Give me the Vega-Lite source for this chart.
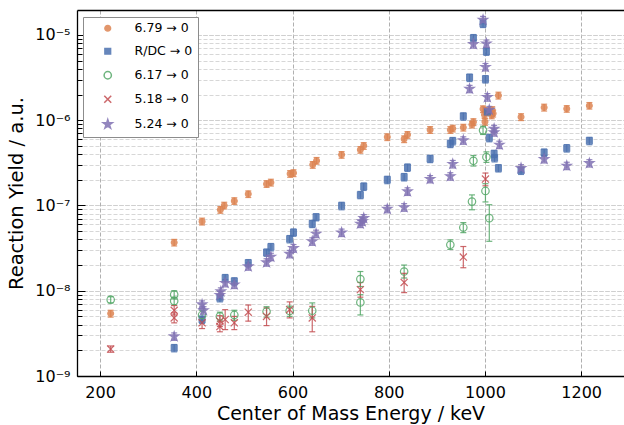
{
  "$schema": "https://vega.github.io/schema/vega-lite/v6.json",
  "width": 547,
  "height": 366,
  "autosize": "none",
  "padding": {"left": 77, "top": 10, "right": 0, "bottom": 49},
  "background": "white",
  "config": {
    "view": {"stroke": null},
    "font": "DejaVu Sans",
    "axis": {"labelFont": "DejaVu Sans", "titleFont": "DejaVu Sans", "labelColor": "#000", "titleColor": "#000", "titleFontWeight": "normal", "domainColor": "#000", "domainWidth": 1.3, "tickColor": "#000", "tickWidth": 1},
    "legend": {"labelFont": "DejaVu Sans", "title": null, "orient": "none", "legendX": 6, "legendY": 7, "padding": 5, "rowPadding": 10,
               "strokeColor": "#8c8c8c", "fillColor": "white", "symbolSize": 40, "symbolOffset": 13.5, "labelOffset": 20.5,
               "labelFontSize": 12.5, "labelColor": "#000"}
  },
  "data": {"name": "d"},
  "datasets": {
    "d": [
      {"s": "6.79 → 0", "E": 222, "Y": 5.4e-9, "lo": 4.9e-9, "hi": 5.9e-9},
      {"s": "6.79 → 0", "E": 354, "Y": 3.68e-8, "lo": 3.35e-8, "hi": 4.0e-8},
      {"s": "6.79 → 0", "E": 412, "Y": 6.5e-8, "lo": 5.9e-8, "hi": 7.1e-8},
      {"s": "6.79 → 0", "E": 450, "Y": 8.9e-8, "lo": 8.1e-8, "hi": 9.7e-8},
      {"s": "6.79 → 0", "E": 458, "Y": 1.0e-7, "lo": 9.1e-8, "hi": 1.09e-7},
      {"s": "6.79 → 0", "E": 479, "Y": 1.13e-7, "lo": 1.03e-7, "hi": 1.23e-7},
      {"s": "6.79 → 0", "E": 508, "Y": 1.36e-7, "lo": 1.24e-7, "hi": 1.48e-7},
      {"s": "6.79 → 0", "E": 546, "Y": 1.79e-7, "lo": 1.63e-7, "hi": 1.95e-7},
      {"s": "6.79 → 0", "E": 555, "Y": 1.86e-7, "lo": 1.69e-7, "hi": 2.03e-7},
      {"s": "6.79 → 0", "E": 595, "Y": 2.35e-7, "lo": 2.14e-7, "hi": 2.56e-7},
      {"s": "6.79 → 0", "E": 602, "Y": 2.4e-7, "lo": 2.18e-7, "hi": 2.62e-7},
      {"s": "6.79 → 0", "E": 642, "Y": 3.0e-7, "lo": 2.73e-7, "hi": 3.27e-7},
      {"s": "6.79 → 0", "E": 650, "Y": 3.35e-7, "lo": 3.05e-7, "hi": 3.65e-7},
      {"s": "6.79 → 0", "E": 702, "Y": 3.93e-7, "lo": 3.58e-7, "hi": 4.28e-7},
      {"s": "6.79 → 0", "E": 741, "Y": 4.5e-7, "lo": 4.1e-7, "hi": 4.9e-7},
      {"s": "6.79 → 0", "E": 748, "Y": 5.0e-7, "lo": 4.55e-7, "hi": 5.45e-7},
      {"s": "6.79 → 0", "E": 797, "Y": 6.34e-7, "lo": 5.77e-7, "hi": 6.91e-7},
      {"s": "6.79 → 0", "E": 832, "Y": 6.0e-7, "lo": 5.46e-7, "hi": 6.54e-7},
      {"s": "6.79 → 0", "E": 839, "Y": 6.74e-7, "lo": 6.13e-7, "hi": 7.35e-7},
      {"s": "6.79 → 0", "E": 886, "Y": 7.7e-7, "lo": 7.0e-7, "hi": 8.4e-7},
      {"s": "6.79 → 0", "E": 928, "Y": 7.7e-7, "lo": 7.0e-7, "hi": 8.4e-7},
      {"s": "6.79 → 0", "E": 933, "Y": 8.0e-7, "lo": 7.28e-7, "hi": 8.72e-7},
      {"s": "6.79 → 0", "E": 955, "Y": 8.2e-7, "lo": 7.46e-7, "hi": 8.94e-7},
      {"s": "6.79 → 0", "E": 973, "Y": 8.9e-7, "lo": 8.1e-7, "hi": 9.7e-7},
      {"s": "6.79 → 0", "E": 976, "Y": 9.5e-7, "lo": 8.65e-7, "hi": 1.04e-6},
      {"s": "6.79 → 0", "E": 996, "Y": 1.35e-6, "lo": 1.23e-6, "hi": 1.47e-6},
      {"s": "6.79 → 0", "E": 999, "Y": 1.16e-6, "lo": 1.06e-6, "hi": 1.26e-6},
      {"s": "6.79 → 0", "E": 1002, "Y": 1.28e-6, "lo": 1.16e-6, "hi": 1.4e-6},
      {"s": "6.79 → 0", "E": 1000, "Y": 9.6e-7, "lo": 8.7e-7, "hi": 1.05e-6},
      {"s": "6.79 → 0", "E": 1015, "Y": 1.32e-6, "lo": 1.2e-6, "hi": 1.44e-6},
      {"s": "6.79 → 0", "E": 1017, "Y": 1.2e-6, "lo": 1.09e-6, "hi": 1.31e-6},
      {"s": "6.79 → 0", "E": 1014, "Y": 1.14e-6, "lo": 1.04e-6, "hi": 1.24e-6},
      {"s": "6.79 → 0", "E": 1028, "Y": 1.95e-6, "lo": 1.77e-6, "hi": 2.13e-6},
      {"s": "6.79 → 0", "E": 1075, "Y": 1.09e-6, "lo": 9.9e-7, "hi": 1.19e-6},
      {"s": "6.79 → 0", "E": 1123, "Y": 1.41e-6, "lo": 1.28e-6, "hi": 1.54e-6},
      {"s": "6.79 → 0", "E": 1170, "Y": 1.36e-6, "lo": 1.24e-6, "hi": 1.48e-6},
      {"s": "6.79 → 0", "E": 1217, "Y": 1.48e-6, "lo": 1.35e-6, "hi": 1.61e-6},

      {"s": "R/DC → 0", "E": 354, "Y": 2.13e-9, "lo": 1.92e-9, "hi": 2.34e-9},
      {"s": "R/DC → 0", "E": 412, "Y": 4.6e-9, "lo": 4.14e-9, "hi": 5.06e-9},
      {"s": "R/DC → 0", "E": 449, "Y": 8.2e-9, "lo": 7.4e-9, "hi": 9.0e-9},
      {"s": "R/DC → 0", "E": 460, "Y": 1.41e-8, "lo": 1.27e-8, "hi": 1.55e-8},
      {"s": "R/DC → 0", "E": 479, "Y": 1.29e-8, "lo": 1.16e-8, "hi": 1.42e-8},
      {"s": "R/DC → 0", "E": 508, "Y": 2.11e-8, "lo": 1.9e-8, "hi": 2.32e-8},
      {"s": "R/DC → 0", "E": 546, "Y": 2.81e-8, "lo": 2.53e-8, "hi": 3.09e-8},
      {"s": "R/DC → 0", "E": 555, "Y": 3.25e-8, "lo": 2.93e-8, "hi": 3.58e-8},
      {"s": "R/DC → 0", "E": 594, "Y": 4.04e-8, "lo": 3.64e-8, "hi": 4.44e-8},
      {"s": "R/DC → 0", "E": 602, "Y": 4.83e-8, "lo": 4.35e-8, "hi": 5.31e-8},
      {"s": "R/DC → 0", "E": 641, "Y": 6.1e-8, "lo": 5.5e-8, "hi": 6.7e-8},
      {"s": "R/DC → 0", "E": 649, "Y": 7.3e-8, "lo": 6.6e-8, "hi": 8.0e-8},
      {"s": "R/DC → 0", "E": 702, "Y": 9.9e-8, "lo": 8.9e-8, "hi": 1.09e-7},
      {"s": "R/DC → 0", "E": 741, "Y": 1.33e-7, "lo": 1.2e-7, "hi": 1.46e-7},
      {"s": "R/DC → 0", "E": 748, "Y": 1.67e-7, "lo": 1.5e-7, "hi": 1.84e-7},
      {"s": "R/DC → 0", "E": 797, "Y": 2.0e-7, "lo": 1.8e-7, "hi": 2.2e-7},
      {"s": "R/DC → 0", "E": 832, "Y": 2.15e-7, "lo": 1.94e-7, "hi": 2.37e-7},
      {"s": "R/DC → 0", "E": 839, "Y": 2.79e-7, "lo": 2.51e-7, "hi": 3.07e-7},
      {"s": "R/DC → 0", "E": 886, "Y": 3.53e-7, "lo": 3.18e-7, "hi": 3.88e-7},
      {"s": "R/DC → 0", "E": 928, "Y": 5.3e-7, "lo": 4.77e-7, "hi": 5.83e-7},
      {"s": "R/DC → 0", "E": 933, "Y": 5.7e-7, "lo": 5.13e-7, "hi": 6.27e-7},
      {"s": "R/DC → 0", "E": 955, "Y": 1.11e-6, "lo": 1.0e-6, "hi": 1.22e-6},
      {"s": "R/DC → 0", "E": 968, "Y": 3.16e-6, "lo": 2.84e-6, "hi": 3.48e-6},
      {"s": "R/DC → 0", "E": 976, "Y": 9.2e-6, "lo": 8.3e-6, "hi": 1.01e-5},
      {"s": "R/DC → 0", "E": 996, "Y": 1.35e-5, "lo": 1.22e-5, "hi": 1.49e-5},
      {"s": "R/DC → 0", "E": 1001, "Y": 3.03e-6, "lo": 2.73e-6, "hi": 3.33e-6},
      {"s": "R/DC → 0", "E": 1003, "Y": 6.4e-6, "lo": 5.76e-6, "hi": 7.04e-6},
      {"s": "R/DC → 0", "E": 1005, "Y": 1.25e-6, "lo": 1.13e-6, "hi": 1.38e-6},
      {"s": "R/DC → 0", "E": 1009, "Y": 6.2e-7, "lo": 5.58e-7, "hi": 6.82e-7},
      {"s": "R/DC → 0", "E": 1019, "Y": 4.04e-7, "lo": 3.64e-7, "hi": 4.44e-7},
      {"s": "R/DC → 0", "E": 1020, "Y": 3.6e-7, "lo": 3.24e-7, "hi": 3.96e-7},
      {"s": "R/DC → 0", "E": 1028, "Y": 2.74e-7, "lo": 2.47e-7, "hi": 3.01e-7},
      {"s": "R/DC → 0", "E": 1075, "Y": 2.57e-7, "lo": 2.31e-7, "hi": 2.83e-7},
      {"s": "R/DC → 0", "E": 1123, "Y": 4.18e-7, "lo": 3.76e-7, "hi": 4.6e-7},
      {"s": "R/DC → 0", "E": 1170, "Y": 4.7e-7, "lo": 4.23e-7, "hi": 5.17e-7},
      {"s": "R/DC → 0", "E": 1217, "Y": 5.73e-7, "lo": 5.16e-7, "hi": 6.3e-7},

      {"s": "6.17 → 0", "E": 222, "Y": 7.85e-9, "lo": 7.2e-9, "hi": 8.5e-9},
      {"s": "6.17 → 0", "E": 354, "Y": 9.0e-9, "lo": 8.0e-9, "hi": 1.0e-8},
      {"s": "6.17 → 0", "E": 354, "Y": 7.6e-9, "lo": 6.8e-9, "hi": 8.4e-9},
      {"s": "6.17 → 0", "E": 412, "Y": 5.2e-9, "lo": 4.5e-9, "hi": 5.9e-9},
      {"s": "6.17 → 0", "E": 449, "Y": 5.0e-9, "lo": 4.4e-9, "hi": 5.6e-9},
      {"s": "6.17 → 0", "E": 479, "Y": 5.2e-9, "lo": 4.5e-9, "hi": 5.9e-9},
      {"s": "6.17 → 0", "E": 546, "Y": 5.7e-9, "lo": 4.9e-9, "hi": 6.5e-9},
      {"s": "6.17 → 0", "E": 594, "Y": 5.8e-9, "lo": 5.0e-9, "hi": 6.6e-9},
      {"s": "6.17 → 0", "E": 641, "Y": 5.83e-9, "lo": 4.8e-9, "hi": 7.2e-9},
      {"s": "6.17 → 0", "E": 741, "Y": 1.37e-8, "lo": 1.12e-8, "hi": 1.68e-8},
      {"s": "6.17 → 0", "E": 741, "Y": 7.3e-9, "lo": 5.2e-9, "hi": 9.0e-9},
      {"s": "6.17 → 0", "E": 832, "Y": 1.68e-8, "lo": 1.41e-8, "hi": 2.0e-8},
      {"s": "6.17 → 0", "E": 928, "Y": 3.46e-8, "lo": 3.05e-8, "hi": 3.95e-8},
      {"s": "6.17 → 0", "E": 955, "Y": 5.52e-8, "lo": 4.8e-8, "hi": 6.3e-8},
      {"s": "6.17 → 0", "E": 973, "Y": 1.11e-7, "lo": 8.9e-8, "hi": 1.33e-7},
      {"s": "6.17 → 0", "E": 976, "Y": 3.34e-7, "lo": 2.9e-7, "hi": 3.85e-7},
      {"s": "6.17 → 0", "E": 996, "Y": 7.6e-7, "lo": 6.8e-7, "hi": 8.5e-7},
      {"s": "6.17 → 0", "E": 1001, "Y": 1.48e-7, "lo": 1.1e-7, "hi": 1.8e-7},
      {"s": "6.17 → 0", "E": 1003, "Y": 3.7e-7, "lo": 3.2e-7, "hi": 4.25e-7},
      {"s": "6.17 → 0", "E": 1009, "Y": 7.1e-8, "lo": 3.8e-8, "hi": 1.02e-7},

      {"s": "5.18 → 0", "E": 222, "Y": 2.07e-9, "lo": 1.9e-9, "hi": 2.25e-9},
      {"s": "5.18 → 0", "E": 354, "Y": 5.9e-9, "lo": 5.2e-9, "hi": 6.7e-9},
      {"s": "5.18 → 0", "E": 354, "Y": 4.8e-9, "lo": 4.2e-9, "hi": 5.5e-9},
      {"s": "5.18 → 0", "E": 412, "Y": 4.2e-9, "lo": 3.6e-9, "hi": 4.9e-9},
      {"s": "5.18 → 0", "E": 449, "Y": 4.4e-9, "lo": 3.8e-9, "hi": 5.1e-9},
      {"s": "5.18 → 0", "E": 449, "Y": 3.8e-9, "lo": 3.3e-9, "hi": 4.4e-9},
      {"s": "5.18 → 0", "E": 460, "Y": 4.6e-9, "lo": 3.5e-9, "hi": 6.0e-9},
      {"s": "5.18 → 0", "E": 479, "Y": 4.2e-9, "lo": 3.5e-9, "hi": 5.0e-9},
      {"s": "5.18 → 0", "E": 508, "Y": 5.6e-9, "lo": 4.4e-9, "hi": 6.8e-9},
      {"s": "5.18 → 0", "E": 546, "Y": 5.0e-9, "lo": 3.9e-9, "hi": 6.3e-9},
      {"s": "5.18 → 0", "E": 594, "Y": 6.0e-9, "lo": 4.8e-9, "hi": 7.4e-9},
      {"s": "5.18 → 0", "E": 641, "Y": 4.8e-9, "lo": 3.3e-9, "hi": 6.55e-9},
      {"s": "5.18 → 0", "E": 741, "Y": 1.03e-8, "lo": 8.4e-9, "hi": 1.25e-8},
      {"s": "5.18 → 0", "E": 832, "Y": 1.25e-8, "lo": 9.5e-9, "hi": 1.6e-8},
      {"s": "5.18 → 0", "E": 955, "Y": 2.48e-8, "lo": 1.86e-8, "hi": 3.3e-8},
      {"s": "5.18 → 0", "E": 1001, "Y": 2.04e-7, "lo": 1.7e-7, "hi": 2.4e-7},

      {"s": "5.24 → 0", "E": 354, "Y": 2.91e-9, "lo": 2.62e-9, "hi": 3.2e-9},
      {"s": "5.24 → 0", "E": 412, "Y": 6.9e-9, "lo": 6.2e-9, "hi": 7.6e-9},
      {"s": "5.24 → 0", "E": 415, "Y": 5.9e-9, "lo": 5.3e-9, "hi": 6.5e-9},
      {"s": "5.24 → 0", "E": 449, "Y": 8.9e-9, "lo": 8.0e-9, "hi": 9.8e-9},
      {"s": "5.24 → 0", "E": 451, "Y": 9.8e-9, "lo": 8.8e-9, "hi": 1.08e-8},
      {"s": "5.24 → 0", "E": 460, "Y": 1.23e-8, "lo": 1.11e-8, "hi": 1.35e-8},
      {"s": "5.24 → 0", "E": 479, "Y": 1.18e-8, "lo": 1.06e-8, "hi": 1.3e-8},
      {"s": "5.24 → 0", "E": 508, "Y": 1.93e-8, "lo": 1.74e-8, "hi": 2.12e-8},
      {"s": "5.24 → 0", "E": 546, "Y": 2.15e-8, "lo": 1.94e-8, "hi": 2.37e-8},
      {"s": "5.24 → 0", "E": 555, "Y": 2.5e-8, "lo": 2.25e-8, "hi": 2.75e-8},
      {"s": "5.24 → 0", "E": 594, "Y": 2.7e-8, "lo": 2.43e-8, "hi": 2.97e-8},
      {"s": "5.24 → 0", "E": 602, "Y": 3.16e-8, "lo": 2.84e-8, "hi": 3.48e-8},
      {"s": "5.24 → 0", "E": 641, "Y": 3.79e-8, "lo": 3.41e-8, "hi": 4.17e-8},
      {"s": "5.24 → 0", "E": 649, "Y": 4.66e-8, "lo": 4.19e-8, "hi": 5.13e-8},
      {"s": "5.24 → 0", "E": 702, "Y": 4.8e-8, "lo": 4.32e-8, "hi": 5.28e-8},
      {"s": "5.24 → 0", "E": 741, "Y": 6.1e-8, "lo": 5.5e-8, "hi": 6.7e-8},
      {"s": "5.24 → 0", "E": 745, "Y": 6.5e-8, "lo": 5.85e-8, "hi": 7.15e-8},
      {"s": "5.24 → 0", "E": 748, "Y": 7.1e-8, "lo": 6.4e-8, "hi": 7.8e-8},
      {"s": "5.24 → 0", "E": 797, "Y": 9.1e-8, "lo": 8.2e-8, "hi": 1.0e-7},
      {"s": "5.24 → 0", "E": 832, "Y": 9.5e-8, "lo": 8.55e-8, "hi": 1.05e-7},
      {"s": "5.24 → 0", "E": 839, "Y": 1.46e-7, "lo": 1.31e-7, "hi": 1.61e-7},
      {"s": "5.24 → 0", "E": 886, "Y": 2.04e-7, "lo": 1.84e-7, "hi": 2.24e-7},
      {"s": "5.24 → 0", "E": 928, "Y": 2.2e-7, "lo": 1.98e-7, "hi": 2.42e-7},
      {"s": "5.24 → 0", "E": 933, "Y": 3.06e-7, "lo": 2.75e-7, "hi": 3.37e-7},
      {"s": "5.24 → 0", "E": 955, "Y": 5.8e-7, "lo": 5.22e-7, "hi": 6.38e-7},
      {"s": "5.24 → 0", "E": 968, "Y": 2.33e-6, "lo": 2.1e-6, "hi": 2.56e-6},
      {"s": "5.24 → 0", "E": 976, "Y": 7.8e-6, "lo": 7.0e-6, "hi": 8.6e-6},
      {"s": "5.24 → 0", "E": 996, "Y": 1.5e-5, "lo": 1.35e-5, "hi": 1.65e-5},
      {"s": "5.24 → 0", "E": 1001, "Y": 4.2e-6, "lo": 3.78e-6, "hi": 4.62e-6},
      {"s": "5.24 → 0", "E": 1003, "Y": 7.9e-6, "lo": 7.1e-6, "hi": 8.7e-6},
      {"s": "5.24 → 0", "E": 1005, "Y": 1.86e-6, "lo": 1.67e-6, "hi": 2.05e-6},
      {"s": "5.24 → 0", "E": 1009, "Y": 1.32e-6, "lo": 1.19e-6, "hi": 1.45e-6},
      {"s": "5.24 → 0", "E": 1019, "Y": 7.9e-7, "lo": 7.1e-7, "hi": 8.7e-7},
      {"s": "5.24 → 0", "E": 1019, "Y": 7.2e-7, "lo": 6.5e-7, "hi": 7.9e-7},
      {"s": "5.24 → 0", "E": 1030, "Y": 5.15e-7, "lo": 4.64e-7, "hi": 5.67e-7},
      {"s": "5.24 → 0", "E": 1075, "Y": 2.74e-7, "lo": 2.47e-7, "hi": 3.01e-7},
      {"s": "5.24 → 0", "E": 1123, "Y": 3.5e-7, "lo": 3.15e-7, "hi": 3.85e-7},
      {"s": "5.24 → 0", "E": 1170, "Y": 2.92e-7, "lo": 2.63e-7, "hi": 3.21e-7},
      {"s": "5.24 → 0", "E": 1217, "Y": 3.13e-7, "lo": 2.82e-7, "hi": 3.44e-7}
    ]
  },
  "resolve": {"axis": {"x": "independent", "y": "independent"}},
  "layer": [
    {
      "mark": {"type": "rule", "strokeWidth": 1.2, "opacity": 0.85},
      "encoding": {
        "x": {"field": "E", "type": "quantitative", "scale": {"domain": [152, 1289], "nice": false, "zero": false},
              "axis": {"orient": "top", "labels": false, "ticks": false, "grid": false, "title": null, "domain": true}},
        "y": {"field": "lo", "type": "quantitative", "scale": {"type": "log", "domain": [1e-9, 1.96e-5], "nice": false},
              "axis": {"orient": "left", "values": [1e-9, 1e-8, 1e-7, 1e-6, 1e-5], "labels": false, "title": null, "domain": false,
                       "tickSize": -8, "grid": true, "gridColor": "#b0b0b0", "gridDash": [4, 2], "gridWidth": 1}},
        "y2": {"field": "hi"},
        "stroke": {"field": "s", "type": "nominal",
                   "scale": {"domain": ["6.79 → 0", "R/DC → 0", "6.17 → 0", "5.18 → 0", "5.24 → 0"], "range": ["#DD8452", "#4C72B0", "#55A868", "#C44E52", "#8172B3"]}}
      }
    },
    {
      "transform": [{"fold": ["lo", "hi"], "as": ["which", "cap"]}],
      "mark": {"type": "point", "shape": "stroke", "size": 36, "strokeWidth": 1.2, "opacity": 0.85, "filled": false},
      "encoding": {
        "x": {"field": "E", "type": "quantitative", "scale": {"domain": [152, 1289], "nice": false, "zero": false}, "axis": null},
        "y": {"field": "cap", "type": "quantitative", "scale": {"type": "log", "domain": [1e-9, 1.96e-5], "nice": false}, "axis": null},
        "stroke": {"field": "s", "type": "nominal",
                   "scale": {"domain": ["6.79 → 0", "R/DC → 0", "6.17 → 0", "5.18 → 0", "5.24 → 0"], "range": ["#DD8452", "#4C72B0", "#55A868", "#C44E52", "#8172B3"]}}
      }
    },
    {
      "mark": {"type": "point", "size": 42, "strokeWidth": 1.2, "opacity": 0.85},
      "encoding": {
        "x": {"field": "E", "type": "quantitative", "scale": {"domain": [152, 1289], "nice": false, "zero": false},
              "axis": {"orient": "bottom", "title": "Center of Mass Energy / keV", "values": [200, 400, 600, 800, 1000, 1200], "format": "d",
                       "labelFontSize": 16, "titleFontSize": 19, "tickSize": -5, "labelPadding": 13, "titlePadding": 4,
                       "grid": true, "gridColor": "#b0b0b0", "gridDash": [4, 2], "gridWidth": 1}},
        "y": {"field": "Y", "type": "quantitative", "scale": {"type": "log", "domain": [1e-9, 1.96e-5], "nice": false},
              "axis": {"orient": "left", "title": "Reaction Yield / a.u.",
                       "values": [1e-9, 2e-9, 3e-9, 4e-9, 5e-9, 6e-9, 7e-9, 8e-9, 9e-9, 1e-8, 2e-8, 3e-8, 4e-8, 5e-8, 6e-8, 7e-8, 8e-8, 9e-8, 1e-7, 2e-7, 3e-7, 4e-7, 5e-7, 6e-7, 7e-7, 8e-7, 9e-7, 1e-6, 2e-6, 3e-6, 4e-6, 5e-6, 6e-6, 7e-6, 8e-6, 9e-6, 1e-5],
                       "labelExpr": "abs(log(datum.value)/LN10 - round(log(datum.value)/LN10)) < 0.001 ? '10⁻' + ['⁰','¹','²','³','⁴','⁵','⁶','⁷','⁸','⁹','¹⁰'][-round(log(datum.value)/LN10)] : ''",
                       "labelOverlap": false, "labelFontSize": 16, "titleFontSize": 19.5, "labelPadding": 12, "titlePadding": 8,
                       "tickSize": -5, "grid": true, "gridDash": [4, 2], "gridColor": "#d2d2d2", "gridWidth": 0.9}},
        "stroke": {"field": "s", "type": "nominal",
                   "scale": {"domain": ["6.79 → 0", "R/DC → 0", "6.17 → 0", "5.18 → 0", "5.24 → 0"], "range": ["#DD8452", "#4C72B0", "#55A868", "#C44E52", "#8172B3"]},
                   "legend": {"labelExpr": "datum.label + '\u00a0\u00a0\u00a0\u00a0'"}},
        "fill": {"field": "s", "type": "nominal",
                 "scale": {"domain": ["6.79 → 0", "R/DC → 0", "6.17 → 0", "5.18 → 0", "5.24 → 0"], "range": ["#DD8452", "#4C72B0", "transparent", "transparent", "#8172B3"]},
                 "legend": {"labelExpr": "datum.label + '\u00a0\u00a0\u00a0\u00a0'"}},
        "shape": {"field": "s", "type": "nominal",
                  "scale": {"domain": ["6.79 → 0", "R/DC → 0", "6.17 → 0", "5.18 → 0", "5.24 → 0"],
                            "range": ["M-0.9,0A0.9,0.9,0,1,0,0.9,0A0.9,0.9,0,1,0,-0.9,0Z", "M-0.9,-0.9L0.9,-0.9L0.9,0.9L-0.9,0.9Z", "M-1.15,0A1.15,1.15,0,1,0,1.15,0A1.15,1.15,0,1,0,-1.15,0Z", "M-1.1,-1.1L1.1,1.1M-1.1,1.1L1.1,-1.1", "M0,-1.5L0.337,-0.464L1.427,-0.464L0.545,0.177L0.882,1.214L0,0.573L-0.882,1.214L-0.545,0.177L-1.427,-0.464L-0.337,-0.464Z"]},
                  "legend": {"labelExpr": "datum.label + '\u00a0\u00a0\u00a0\u00a0'"}}
      }
    }
  ]
}
